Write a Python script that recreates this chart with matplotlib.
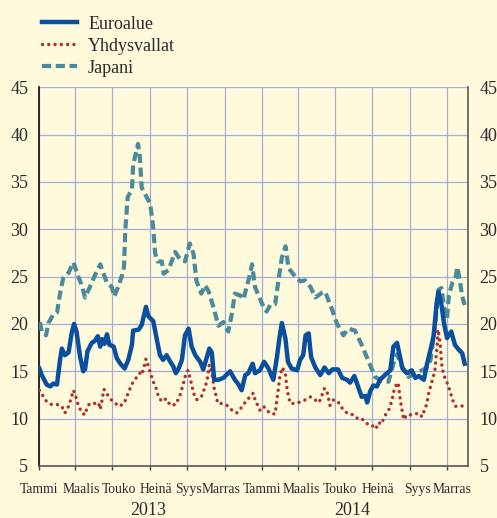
import matplotlib
matplotlib.use("Agg")
import matplotlib.pyplot as plt
import matplotlib.transforms as mtransforms
import pandas as pd

# ---------------- data (days since 2013-01-01, implied volatility) ----------------
base_date = "2013-01-01"

euro_days = [0, 4, 12, 18, 23, 29, 34, 37, 42, 48, 53, 57, 61, 67, 72, 75, 79, 86, 91, 96,
             100, 103, 107, 111, 115, 122, 127, 133, 140, 146, 152, 154, 163, 168, 175, 179, 187, 193, 198, 203,
             209, 215, 220, 224, 228, 234, 239, 245, 250, 256, 264, 269, 275, 279, 283, 287, 294, 302, 313, 321,
             327, 332, 338, 343, 350, 354, 362, 369, 376, 384, 390, 394, 398, 404, 408, 414, 423, 428, 433, 437,
             442, 446, 453, 461, 468, 475, 481, 490, 497, 505, 510, 517, 523, 529, 535, 538, 543, 548, 554, 559,
             567, 576, 581, 587, 592, 596, 603, 611, 617, 623, 631, 636, 642, 647, 652, 655, 660, 664, 669, 676,
             682, 688, 694, 698]
euro_vals = [15.3, 14.6, 13.6, 13.4, 13.7, 13.6, 16.2, 17.4, 16.7, 17.0, 19.0, 20.0, 19.2, 16.5, 15.0, 15.2, 17.1, 18.0, 18.2, 18.7,
             17.6, 18.4, 17.9, 18.9, 17.8, 17.6, 16.4, 15.8, 15.3, 16.2, 17.8, 19.3, 19.4, 19.9, 21.8, 20.8, 20.3, 18.3, 16.7, 16.2,
             16.7, 16.0, 15.5, 14.8, 15.2, 16.2, 18.8, 19.5, 17.6, 16.7, 16.0, 15.2, 16.5, 17.4, 17.0, 14.1, 14.1, 14.3, 15.0, 14.1,
             13.6, 13.0, 14.6, 14.8, 15.8, 14.8, 15.1, 16.0, 15.3, 14.1, 16.5, 18.5, 20.1, 18.4, 16.0, 15.3, 15.1, 16.2, 16.7, 18.8,
             19.0, 16.5, 15.4, 14.6, 15.4, 14.8, 15.2, 15.2, 14.3, 14.1, 13.8, 14.5, 13.4, 12.3, 12.4, 11.7, 12.9, 13.5, 13.4, 14.1,
             14.6, 15.1, 17.6, 18.0, 16.5, 15.3, 14.8, 15.1, 14.3, 14.5, 14.1, 15.7, 17.3, 18.7, 22.2, 23.4, 22.0, 20.1, 18.5, 19.2,
             17.8, 17.3, 16.9, 15.8]

us_days = [0, 5, 12, 20, 29, 37, 42, 48, 52, 56, 60, 64, 70, 75, 79, 83, 90, 97, 100, 102,
           106, 111, 118, 125, 131, 139, 144, 149, 154, 160, 165, 168, 172, 175, 179, 183, 187, 193, 195, 201,
           208, 215, 224, 231, 236, 239, 244, 247, 250, 253, 258, 266, 271, 275, 279, 283, 287, 290, 293, 299,
           308, 316, 324, 332, 341, 346, 351, 354, 362, 368, 373, 380, 387, 390, 392, 395, 399, 404, 406, 409,
           412, 420, 430, 437, 445, 452, 459, 464, 468, 472, 475, 477, 483, 491, 499, 507, 516, 524, 532, 539,
           546, 552, 557, 561, 565, 569, 574, 579, 581, 584, 589, 591, 594, 598, 603, 614, 622, 628, 632, 636,
           639, 642, 645, 649, 651, 653, 654, 656, 658, 659, 660, 661, 665, 671, 674, 678, 683, 691, 698]
us_vals = [13.0, 12.5, 11.8, 11.5, 11.5, 11.3, 10.6, 11.3, 12.1, 13.0, 12.3, 11.4, 10.6, 10.4, 11.3, 11.6, 11.6, 11.7, 11.0, 11.6,
           13.1, 12.6, 12.0, 11.6, 11.3, 11.6, 12.4, 13.2, 13.9, 14.4, 14.8, 14.6, 15.5, 16.3, 15.5, 14.7, 13.9, 13.0, 12.4, 11.8,
           12.1, 11.4, 11.5, 12.5, 13.6, 14.4, 15.1, 14.4, 13.6, 12.7, 12.0, 12.3, 13.2, 13.9, 15.7, 14.9, 13.2, 12.4, 11.6, 11.6,
           11.4, 10.9, 10.6, 11.2, 12.0, 12.3, 12.7, 12.0, 10.9, 11.3, 10.9, 10.5, 10.5, 12.1, 13.0, 14.6, 15.4, 14.6, 13.4, 12.3,
           11.6, 11.6, 11.8, 12.0, 12.3, 12.0, 11.7, 12.5, 13.2, 12.9, 12.0, 11.4, 12.0, 11.7, 10.9, 10.5, 10.4, 9.9, 9.9, 9.4,
           9.3, 8.9, 9.6, 9.4, 10.0, 10.5, 11.0, 12.0, 12.7, 13.4, 13.8, 12.7, 11.3, 9.9, 10.4, 10.4, 10.6, 10.2, 10.9, 11.6,
           12.7, 13.4, 14.1, 15.0, 16.5, 17.8, 19.4, 18.8, 17.8, 16.8, 16.0, 15.3, 14.4, 13.5, 12.9, 12.0, 11.3, 11.3, 11.4]

jp_days = [1, 4, 11, 15, 23, 29, 34, 39, 48, 56, 64, 70, 75, 83, 91, 100, 105, 111, 119, 123,
           130, 136, 139, 141, 145, 152, 154, 162, 165, 168, 176, 182, 187, 190, 194, 201, 204, 212, 223, 231,
           239, 247, 253, 258, 266, 272, 278, 286, 294, 302, 310, 316, 321, 330, 335, 341, 346, 349, 354, 365,
           373, 379, 387, 392, 398, 404, 409, 420, 428, 436, 445, 453, 464, 469, 480, 488, 499, 507, 518, 529,
           540, 551, 562, 573, 581, 587, 595, 606, 617, 628, 636, 642, 650, 655, 660, 664, 669, 672, 678, 683,
           686, 690, 694, 698]
jp_vals = [20.2, 19.2, 18.8, 20.1, 21.0, 21.2, 23.2, 24.8, 25.4, 26.5, 25.0, 24.0, 22.8, 23.9, 25.1, 26.3, 25.4, 24.3, 23.9, 22.9,
           24.0, 25.2, 26.0, 29.8, 33.4, 34.2, 36.8, 39.0, 37.6, 34.4, 33.4, 32.7, 30.1, 27.5, 26.6, 26.6, 25.3, 25.7, 27.6, 26.8,
           26.6, 28.5, 27.4, 24.5, 23.2, 24.1, 23.4, 21.7, 19.8, 20.2, 19.2, 21.1, 23.2, 23.0, 22.6, 24.1, 25.3, 26.3, 23.9, 22.2,
           21.3, 22.0, 22.1, 24.4, 27.0, 28.2, 25.9, 25.0, 24.5, 24.6, 23.9, 22.8, 23.3, 23.4, 21.6, 20.1, 18.8, 19.5, 19.3, 17.8,
           16.1, 14.4, 14.0, 13.9, 15.8, 16.8, 15.5, 14.4, 14.8, 15.1, 15.4, 16.2, 20.1, 23.6, 23.8, 21.8, 20.5, 23.0, 24.4, 24.9,
           26.0, 24.6, 22.9, 22.0]

series_names = ["Euroalue", "Yhdysvallat", "Japani"]
tick_dates = ["2013-01-01", "2013-03-01", "2013-05-01", "2013-07-01", "2013-09-01", "2013-11-01",
              "2014-01-01", "2014-03-01", "2014-05-01", "2014-07-01", "2014-09-01", "2014-11-01"]
tick_labels = ["Tammi", "Maalis", "Touko", "Heinä", "Syys", "Marras",
               "Tammi", "Maalis", "Touko", "Heinä", "Syys", "Marras"]
year_labels = ["2013", "2014"]
year_label_dates = ["2013-06-28", "2014-05-30"]
year_starts = ["2013-01-01", "2014-01-01"]
x_end = "2014-12-06"
y_ticks = [5, 10, 15, 20, 25, 30, 35, 40, 45]

# ---------------- style ----------------
bg = "#fffadc"
grid_c = "#a3addd"
euro_c = "#0a4f9e"
us_c = "#b0322e"
jp_c = "#4a8a9c"
txt_c = "#2a2a2a"
label_shift_px = [0, 6, 6, 6, 1, -3, 0, 4, 5, 6, 8, 5]

plt.rcParams["font.family"] = ["Liberation Serif", "DejaVu Serif"]
plt.rcParams["text.color"] = txt_c

b = pd.Timestamp(base_date)
def to_dates(days):
    return b + pd.to_timedelta(days, unit="D")

fig = plt.figure(figsize=(4.97, 5.18), dpi=100, facecolor=bg)
ax = fig.add_axes([0.0791, 0.1004, 0.8632, 0.7313])
ax.set_facecolor(bg)

ax.plot(to_dates(jp_days), jp_vals, color=jp_c, lw=3.0, linestyle=(0, (2.2, 1.1)),
        dash_capstyle="butt", label=series_names[2], zorder=3)
ax.plot(to_dates(us_days), us_vals, color=us_c, lw=2.5, linestyle=(0, (0.01, 1.8)),
        dash_capstyle="round", label=series_names[1], zorder=4)
ax.plot(to_dates(euro_days), euro_vals, color=euro_c, lw=3.2, solid_joinstyle="round",
        label=series_names[0], zorder=5)

ax.set_xlim(b, pd.Timestamp(x_end))
ax.set_ylim(5, 45)
ax.set_yticks(y_ticks)
ax.set_xticks(pd.to_datetime(tick_dates))
ax.set_xticklabels(tick_labels, fontsize=9.8, color=txt_c)
ax.set_xticks(pd.to_datetime(year_starts), minor=True)
ax.tick_params(axis="x", which="major", length=3, width=1, direction="out", pad=9, color="#444444")
ax.tick_params(axis="x", which="minor", length=9, width=1, direction="out", color="#444444")
ax.tick_params(axis="y", length=0, labelsize=13, labelcolor=txt_c, labelleft=True, labelright=True, pad=8)

for lbl, off in zip(ax.get_xticklabels(), label_shift_px):
    lbl.set_transform(lbl.get_transform() +
                      mtransforms.ScaledTranslation(off / 100.0, 0, fig.dpi_scale_trans))

ax.grid(True, which="major", color=grid_c, lw=0.9)
ax.set_axisbelow(True)

ax.spines["top"].set_visible(False)
ax.spines["left"].set_color("#111111")
ax.spines["left"].set_linewidth(1.2)
ax.spines["right"].set_color("#666666")
ax.spines["right"].set_linewidth(1.3)
ax.spines["bottom"].set_color("#555555")
ax.spines["bottom"].set_linewidth(1.2)

trans = mtransforms.blended_transform_factory(ax.transData, ax.transAxes)
for lab, d in zip(year_labels, year_label_dates):
    ax.text(pd.Timestamp(d), -0.130, lab, transform=trans, ha="center", va="baseline",
            fontsize=13, color=txt_c)

handles, labels = ax.get_legend_handles_labels()
order = [2, 1, 0]
leg = fig.legend([handles[i] for i in order], [labels[i] for i in order],
                 loc="upper left", bbox_to_anchor=(0.0845, 0.970), frameon=False,
                 fontsize=13, handlelength=1.95, handletextpad=0.6, labelspacing=0.28,
                 borderpad=0, borderaxespad=0)
for t in leg.get_texts():
    t.set_color(txt_c)

fig.savefig("out.png", dpi=100, facecolor=bg)
